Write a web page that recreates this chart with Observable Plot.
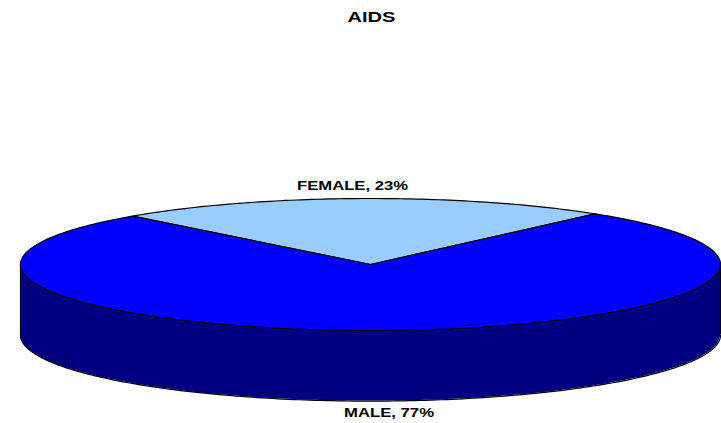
<!DOCTYPE html>
<html><head><meta charset="utf-8">
<script src="https://cdn.jsdelivr.net/npm/d3@7"></script>
<script src="https://cdn.jsdelivr.net/npm/@observablehq/plot@0.6"></script>
<style>html,body{margin:0;padding:0;background:#fff}svg{display:block}</style>
</head><body><div id="chart"></div>
<script>
const title = "AIDS";
const categories = ["FEMALE", "MALE"];
const shares = [23, 77];
const colors = ["#99ccff", "#0000ff"];
const sideColor = "#000080";
const startShare = -11.9;   // where the first slice begins, in % clockwise from the top
const depth = 1.07;         // wall height in units of the vertical semi-axis

const pie = (s) => { const a = s / 100 * 2 * Math.PI; return {x: Math.sin(a), y: Math.cos(a)}; };
const arc = (from, to) => {
  const n = Math.max(2, Math.ceil(Math.abs(to - from) * 4));
  return d3.range(n + 1).map(i => pie(from + (to - from) * i / n));
};
const slices = [];
let cur = startShare;
categories.forEach((c, i) => {
  const pts = [{x: 0, y: 0}, ...arc(cur, cur + shares[i]), {x: 0, y: 0}];
  slices.push({c, pts: pts.map(p => ({...p, c}))});
  cur += shares[i];
});
const wall = arc(25, 75).map(p => ({x: p.x, y1: p.y, y2: p.y - depth}));
const wallEdges = [-1, 1].map(x => ({x, y1: 0, y2: -depth}));
const outline = wall.map(p => ({x: p.x, y: p.y2}));

const labelStyle = {frameAnchor: "top-left", textAnchor: "middle", text: d => d, fontFamily: "Liberation Sans", fontWeight: "bold", fill: "#000"};
const chart = Plot.plot({
  width: 721, height: 423,
  margin: 0,
  x: {domain: [-1, 1], range: [20, 720], axis: null},
  y: {domain: [-1, 1], range: [330, 198], axis: null},
  marks: [
    Plot.areaY(wall, {x: "x", y1: "y1", y2: "y2", fill: sideColor}),
    Plot.line(outline, {x: "x", y: "y", stroke: "#000", strokeWidth: 1.2}),
    Plot.ruleX(wallEdges, {x: "x", y1: "y1", y2: "y2", stroke: "#000", strokeWidth: 1.2}),
    ...slices.map((s, i) => Plot.line(s.pts, {x: "x", y: "y", fill: colors[i], stroke: "#000", strokeWidth: 1.2, strokeLinejoin: "miter"})),
    Plot.text([`${categories[0]}, ${shares[0]}%`], {...labelStyle, dx: 352, dy: 181, fontSize: 12.5, className: "stretch-a"}),
    Plot.text([`${categories[1]}, ${shares[1]}%`], {...labelStyle, dx: 388.5, dy: 408, fontSize: 12.5, className: "stretch-b"}),
    Plot.text([title], {...labelStyle, dx: 371, dy: 12, fontSize: 14, className: "stretch-c"})
  ]
});
// The reference's labels are horizontally stretched; keep them real text but widen the glyphs.
[["stretch-a", 111], ["stretch-b", 90], ["stretch-c", 48]].forEach(([cls, w]) => {
  chart.querySelectorAll(`.${cls} text`).forEach(t => {
    t.setAttribute("textLength", w);
    t.setAttribute("lengthAdjust", "spacingAndGlyphs");
  });
});
document.getElementById("chart").append(chart);
</script></body></html>
